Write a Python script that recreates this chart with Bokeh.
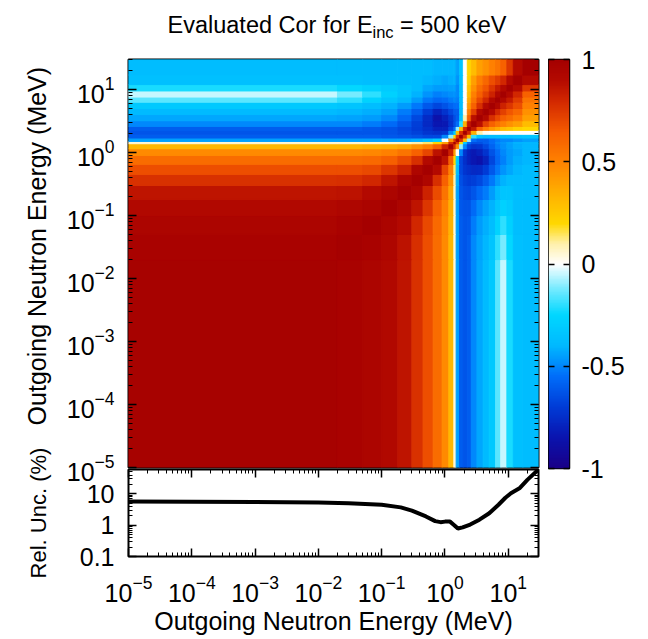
import numpy as np
from bokeh.plotting import figure
from bokeh.layouts import column, row
from bokeh.models import (ColumnDataSource, Range1d, LogAxis, LinearAxis, LogTicker, FixedTicker,
                          LinearColorMapper, Label, CustomJSTickFormatter)
from bokeh.transform import transform
from bokeh.embed import file_html
from bokeh.resources import INLINE

# Outgoing-energy group boundaries of the correlation matrix (MeV)
group_edges = [1e-5, 0.02, 0.05, 0.1, 0.18, 0.3, 0.45, 0.65, 0.9, 1.15, 1.38, 1.5,
               1.7, 1.95, 2.25, 2.6, 3.2, 4.0, 5.0, 6.3, 7.6, 9.5, 12.0, 17.0, 30.0]

# Upper triangle of the symmetric correlation matrix: row i holds groups i..N-1
cor_upper = [
    [0.98, 0.97, 0.95, 0.92, 0.86, 0.77, 0.68, 0.58, 0.47, 0.32, 0.05, -0.45, -0.60, -0.62, -0.60, -0.50, -0.43, -0.39, -0.32, -0.15, -0.05, -0.22, -0.36, -0.38],
    [0.99, 0.97, 0.93, 0.87, 0.78, 0.68, 0.58, 0.47, 0.32, 0.05, -0.45, -0.60, -0.62, -0.60, -0.50, -0.44, -0.40, -0.34, -0.20, -0.12, -0.25, -0.36, -0.38],
    [1.00, 0.96, 0.90, 0.80, 0.70, 0.59, 0.48, 0.33, 0.05, -0.45, -0.60, -0.62, -0.61, -0.52, -0.46, -0.42, -0.37, -0.27, -0.20, -0.28, -0.37, -0.38],
    [1.00, 0.95, 0.86, 0.75, 0.63, 0.50, 0.35, 0.06, -0.45, -0.61, -0.63, -0.63, -0.56, -0.50, -0.45, -0.41, -0.33, -0.28, -0.31, -0.37, -0.38],
    [1.00, 0.94, 0.82, 0.69, 0.55, 0.38, 0.07, -0.44, -0.62, -0.65, -0.66, -0.62, -0.57, -0.52, -0.46, -0.39, -0.34, -0.34, -0.37, -0.38],
    [1.00, 0.93, 0.78, 0.62, 0.44, 0.10, -0.42, -0.64, -0.68, -0.70, -0.69, -0.66, -0.60, -0.53, -0.46, -0.41, -0.38, -0.38, -0.38],
    [1.00, 0.90, 0.71, 0.50, 0.14, -0.38, -0.66, -0.72, -0.75, -0.77, -0.76, -0.70, -0.61, -0.53, -0.47, -0.43, -0.40, -0.38],
    [1.00, 0.87, 0.62, 0.20, -0.30, -0.66, -0.75, -0.80, -0.84, -0.86, -0.79, -0.67, -0.57, -0.51, -0.46, -0.42, -0.40],
    [1.00, 0.82, 0.40, 0.00, -0.50, -0.72, -0.80, -0.83, -0.80, -0.73, -0.63, -0.55, -0.50, -0.46, -0.43, -0.40],
    [1.00, 0.78, 0.45, -0.10, -0.50, -0.68, -0.74, -0.72, -0.66, -0.58, -0.52, -0.48, -0.45, -0.42, -0.40],
    [1.00, 0.75, 0.20, -0.30, -0.55, -0.64, -0.64, -0.60, -0.55, -0.50, -0.47, -0.44, -0.41, -0.40],
    [1.00, 0.75, 0.30, -0.10, -0.55, -0.60, -0.60, -0.55, -0.52, -0.50, -0.50, -0.47, -0.45],
    [1.00, 0.75, 0.30, -0.20, -0.35, -0.38, -0.38, -0.37, -0.36, -0.36, -0.35, -0.33],
    [1.00, 0.80, 0.35, 0.10, 0.02, 0.00, 0.00, 0.00, 0.00, 0.00, 0.00],
    [1.00, 0.85, 0.62, 0.50, 0.42, 0.36, 0.30, 0.27, 0.22, 0.20],
    [1.00, 0.88, 0.72, 0.62, 0.55, 0.50, 0.45, 0.40, 0.30],
    [1.00, 0.90, 0.78, 0.70, 0.63, 0.58, 0.52, 0.40],
    [1.00, 0.90, 0.80, 0.72, 0.66, 0.60, 0.45],
    [1.00, 0.92, 0.82, 0.75, 0.68, 0.50],
    [1.00, 0.92, 0.84, 0.74, 0.55],
    [1.00, 0.90, 0.80, 0.62],
    [1.00, 0.90, 0.75],
    [1.00, 0.90],
    [1.00],
]

# Relative uncertainty of the spectrum (%) versus outgoing energy (MeV)
unc_energy = [1e-5, 1e-4, 1e-3, 1e-2, 0.03, 0.1, 0.2, 0.3, 0.5, 0.7, 0.85, 1.0, 1.2,
              1.4, 1.6, 1.9, 2.5, 3.5, 5.0, 7.0, 9.0, 11.0, 15.0, 20.0, 30.0]
unc_percent = [5.7, 5.6, 5.5, 5.3, 5.0, 4.5, 3.7, 2.9, 1.9, 1.35, 1.25, 1.3, 1.3,
               1.0, 0.78, 0.85, 1.05, 1.5, 2.4, 4.5, 7.5, 10.5, 15.0, 28.0, 60.0]

cbar_ticks = [-1.0, -0.5, 0.0, 0.5, 1.0]

# Colour scale: anchor values and their RGB colours
cmap_values = [-1.0, -0.85, -0.7, -0.55, -0.4, -0.25, -0.12, 0.0, 0.1, 0.2, 0.35, 0.5, 0.65, 0.8, 0.9, 1.0]
cmap_colors = [(25, 0, 135), (10, 20, 175), (0, 60, 215), (0, 110, 250), (0, 185, 255),
               (0, 215, 255), (120, 235, 255), (255, 255, 255), (255, 240, 170), (255, 215, 0),
               (255, 175, 0), (255, 130, 0), (245, 90, 0), (210, 40, 0), (180, 10, 0), (165, 0, 0)]

FONT = "Liberation Sans"
FS = "25px"
NBSP = "\u00a0"

rgb = np.array(cmap_colors, dtype=float)
levels = np.linspace(-1.0, 1.0, 256)
palette = []
for v in levels:
    c = [int(round(np.interp(v, cmap_values, rgb[:, k]))) for k in range(3)]
    palette.append("#%02x%02x%02x" % tuple(c))
mapper = LinearColorMapper(palette=palette, low=-1.0, high=1.0)

# full symmetric matrix
n = len(group_edges) - 1
cor = np.zeros((n, n))
for i, r in enumerate(cor_upper):
    for k, v in enumerate(r):
        cor[i, i + k] = v
        cor[i + k, i] = v

cells = dict(left=[], right=[], bottom=[], top=[], value=[])
for i in range(n):
    for j in range(n):
        cells["left"].append(group_edges[j])
        cells["right"].append(group_edges[j + 1])
        cells["bottom"].append(group_edges[i])
        cells["top"].append(group_edges[i + 1])
        cells["value"].append(float(cor[i, j]))
src = ColumnDataSource(cells)


def style_ticks(ax, show_labels=True):
    ax.major_tick_in = 8
    ax.major_tick_out = 0
    ax.minor_tick_in = 4
    ax.minor_tick_out = 0
    ax.major_tick_line_color = "black"
    ax.minor_tick_line_color = "black"
    ax.major_tick_line_width = 1.5
    ax.minor_tick_line_width = 1
    ax.axis_line_color = None
    ax.major_label_text_font = FONT
    ax.major_label_text_color = "black"
    ax.axis_label_text_font = FONT
    ax.axis_label_text_font_size = FS
    ax.axis_label_text_font_style = "normal"
    ax.axis_label_text_color = "black"
    if show_labels:
        ax.major_label_text_font_size = FS
    else:
        # mirrored ticks only: labels kept tiny and invisible
        ax.major_label_text_font_size = "1px"
        ax.major_label_text_alpha = 0
        ax.major_label_standoff = 0


# ---- title ----
ttl = figure(width=648, height=40, x_range=Range1d(0, 648), y_range=Range1d(0, 40),
             x_axis_location=None, y_axis_location=None,
             output_backend="svg", toolbar_location=None,
             min_border_left=0, min_border_right=0, min_border_top=0, min_border_bottom=0)
ttl.grid.visible = False
ttl.outline_line_color = None
for txt, x0, y0, size in [("Evaluated Cor for E", 167, 16, "23.5px"),
                          ("inc", 372, 9, "16.5px"),
                          (NBSP + "= 500 keV", 393, 16, "23.5px")]:
    ttl.add_layout(Label(x=x0, y=y0, x_units="screen", y_units="screen", text=txt,
                         text_font=FONT, text_font_size=size, text_color="black",
                         text_baseline="alphabetic"))

# ---- correlation heat map ----
e_lo, e_hi = group_edges[0], group_edges[-1]
hm = figure(width=548, height=447, x_axis_type="log", y_axis_type="log",
            x_range=Range1d(e_lo, e_hi), y_range=Range1d(e_lo, e_hi),
            x_axis_location=None, output_backend="svg", toolbar_location=None,
            min_border_left=128, min_border_right=10, min_border_top=19, min_border_bottom=20)
hm.grid.visible = False
hm.outline_line_color = "black"
hm.outline_line_width = 2
hm.border_fill_alpha = 0
hm.quad(left="left", right="right", bottom="bottom", top="top", source=src,
        fill_color=transform("value", mapper), line_color=transform("value", mapper), line_width=1)

style_ticks(hm.yaxis[0])
hm.yaxis[0].ticker = LogTicker(desired_num_ticks=8, num_minor_ticks=10)
hm.yaxis[0].major_label_standoff = 14
hm.yaxis[0].axis_label = NBSP * 5 + "Outgoing Neutron Energy (MeV)"
hm.yaxis[0].axis_label_standoff = 13
hm_right = LogAxis(ticker=LogTicker(desired_num_ticks=8, num_minor_ticks=10))
style_ticks(hm_right, show_labels=False)
hm.add_layout(hm_right, "right")

# ---- relative uncertainty panel ----
unc = figure(width=548, height=199, x_axis_type="log", y_axis_type="log",
             x_range=hm.x_range, y_range=Range1d(0.1, 60),
             output_backend="svg", toolbar_location=None,
             min_border_left=128, min_border_right=10, min_border_top=29, min_border_bottom=83)
unc.margin = (-47, 0, 0, 0)
unc.grid.visible = False
unc.outline_line_color = "black"
unc.outline_line_width = 2
unc.border_fill_alpha = 0
unc.background_fill_alpha = 0
unc.line(unc_energy, unc_percent, line_width=4, line_color="black")

style_ticks(unc.xaxis[0])
unc.xaxis[0].ticker = LogTicker(desired_num_ticks=8, num_minor_ticks=10)
unc.xaxis[0].major_label_standoff = 18
unc.xaxis[0].axis_label = "Outgoing Neutron Energy (MeV)"
unc.xaxis[0].axis_label_standoff = 2

style_ticks(unc.yaxis[0])
unc.yaxis[0].ticker = LogTicker(desired_num_ticks=4, num_minor_ticks=10)
unc.yaxis[0].formatter = CustomJSTickFormatter(code="return String(Number(tick.toPrecision(6)))")
unc.yaxis[0].major_label_standoff = 14
unc.yaxis[0].axis_label = "Rel. Unc. (%)"
unc.yaxis[0].axis_label_text_font_size = "22px"
unc.yaxis[0].axis_label_standoff = 26

unc_top = LogAxis(ticker=LogTicker(desired_num_ticks=8, num_minor_ticks=10))
style_ticks(unc_top, show_labels=False)
unc.add_layout(unc_top, "above")
unc_right = LogAxis(ticker=LogTicker(desired_num_ticks=4, num_minor_ticks=10))
style_ticks(unc_right, show_labels=False)
unc.add_layout(unc_right, "right")

# ---- colour scale ----
cbar = figure(width=100, height=599, x_range=Range1d(0, 1), y_range=Range1d(-1, 1),
              x_axis_location=None, y_axis_location=None,
              output_backend="svg", toolbar_location=None,
              min_border_left=0, min_border_right=79, min_border_top=19, min_border_bottom=171)
cbar.grid.visible = False
cbar.outline_line_color = "black"
cbar.outline_line_width = 1.5
cbar.image(image=[levels.reshape(-1, 1)], x=0, y=-1, dw=1, dh=2, color_mapper=mapper)
cb_right = LinearAxis(ticker=FixedTicker(ticks=cbar_ticks))
style_ticks(cb_right)
cb_right.formatter = CustomJSTickFormatter(code="return String(tick)")
cb_right.major_tick_in = 6
cb_right.major_label_standoff = 12
cbar.add_layout(cb_right, "right")
cb_left = LinearAxis(ticker=FixedTicker(ticks=cbar_ticks))
style_ticks(cb_left, show_labels=False)
cb_left.major_tick_in = 6
cbar.add_layout(cb_left, "left")

layout = column(ttl, row(column(hm, unc), cbar))
open("out.html", "w").write(file_html(layout, INLINE))
